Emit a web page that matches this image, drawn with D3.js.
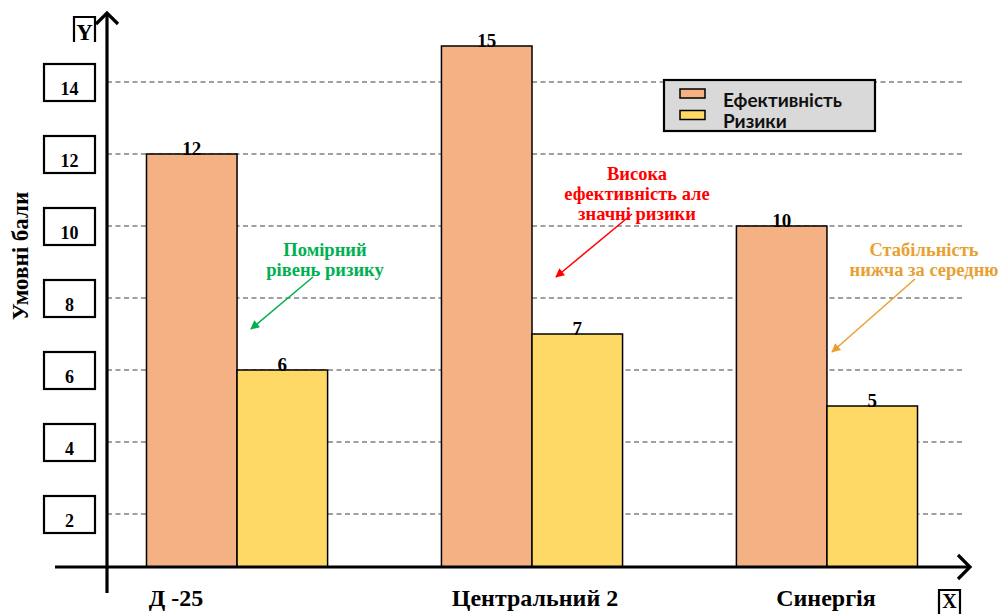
<!DOCTYPE html>
<html>
<head>
<meta charset="utf-8">
<script src="https://cdn.jsdelivr.net/npm/d3@7"></script>
<style>
  html, body { margin: 0; padding: 0; background: #ffffff; }
  svg { display: block; }
</style>
</head>
<body>
<svg id="chart" width="1006" height="614"></svg>
<script>
// Категорії та значення (умовні бали)
const categories = ["Д -25", "Центральний 2", "Синергія"];
const seriesNames = ["Ефективність", "Ризики"];
const efficiency = [12, 15, 10];
const risks = [6, 7, 5];
const yTicks = [2, 4, 6, 8, 10, 12, 14];

const seriesColors = ["#F4B183", "#FFD966"];
const serif = "'Liberation Serif', 'Times New Roman', serif";
const sans = "Lato, 'Open Sans', sans-serif";

const svg = d3.select("#chart");

// Шкали
const y = d3.scaleLinear().domain([0, 16]).range([586, 10]);
const x0 = d3.scaleBand().domain(categories).range([117, 947])
  .paddingInner(0.386).paddingOuter(0.1);
const x1 = d3.scaleBand().domain(seriesNames).range([0, x0.bandwidth()]).padding(0);

const axisX = 107;     // положення вертикальної осі
const axisY = 567;     // положення горизонтальної осі
const gridRight = 963;

const rows = categories.map((c, i) => ({
  category: c,
  values: [
    { name: seriesNames[0], value: efficiency[i], color: seriesColors[0] },
    { name: seriesNames[1], value: risks[i], color: seriesColors[1] }
  ]
}));

// Горизонтальні пунктирні лінії сітки
svg.append("g").selectAll("line")
  .data(yTicks)
  .join("line")
  .attr("x1", axisX).attr("x2", gridRight)
  .attr("y1", d => y(d)).attr("y2", d => y(d))
  .attr("stroke", "#404040").attr("stroke-width", 1)
  .attr("stroke-dasharray", "5,3.5");

// Підписи шкали в рамках
const tickG = svg.append("g").selectAll("g")
  .data(yTicks)
  .join("g")
  .attr("transform", d => `translate(0,${y(d)})`);
tickG.append("rect")
  .attr("x", 44).attr("y", -18).attr("width", 51).attr("height", 37)
  .attr("fill", "#fff").attr("stroke", "#000").attr("stroke-width", 2.2);
tickG.append("text")
  .attr("x", 69.5).attr("y", 13)
  .attr("text-anchor", "middle")
  .attr("font-family", serif).attr("font-weight", "bold").attr("font-size", 18)
  .text(d => d);

// Стовпчики
const groups = svg.append("g").selectAll("g")
  .data(rows)
  .join("g")
  .attr("transform", d => `translate(${x0(d.category)},0)`);

groups.selectAll("rect")
  .data(d => d.values)
  .join("rect")
  .attr("x", d => x1(d.name))
  .attr("y", d => y(d.value))
  .attr("width", x1.bandwidth())
  .attr("height", d => axisY - y(d.value))
  .attr("fill", d => d.color)
  .attr("stroke", "#000").attr("stroke-width", 1.5);

// Значення над стовпчиками
groups.selectAll("text.val")
  .data(d => d.values)
  .join("text")
  .attr("class", "val")
  .attr("x", d => x1(d.name) + x1.bandwidth() / 2)
  .attr("y", d => y(d.value) + 1)
  .attr("text-anchor", "middle")
  .attr("font-family", serif).attr("font-weight", "bold").attr("font-size", 19)
  .text(d => d.value);

// Осі зі стрілками
const axes = svg.append("g").attr("stroke", "#000").attr("fill", "none")
  .attr("stroke-width", 3.2).attr("stroke-linecap", "butt");
axes.append("line").attr("x1", axisX).attr("x2", axisX).attr("y1", 13).attr("y2", 593);
axes.append("path").attr("d", `M${axisX - 11},${24} L${axisX},${13} L${axisX + 11},${24}`)
  .attr("stroke-linejoin", "miter");
axes.append("line").attr("x1", 55).attr("x2", 969).attr("y1", axisY).attr("y2", axisY);
axes.append("path").attr("d", `M${958},${axisY - 12} L${970},${axisY} L${958},${axisY + 12}`);

// Позначки осей Y та X
const axisLetters = svg.append("g");
axisLetters.append("path")
  .attr("d", "M74,42 L74,17 L95,17 L95,42")
  .attr("fill", "none").attr("stroke", "#000").attr("stroke-width", 2.2);
axisLetters.append("text").attr("x", 84.5).attr("y", 40).attr("text-anchor", "middle")
  .attr("font-family", serif).attr("font-weight", "bold").attr("font-size", 23).text("Y");
axisLetters.append("path")
  .attr("d", "M939,616 L939,590 L960,590 L960,616")
  .attr("fill", "none").attr("stroke", "#000").attr("stroke-width", 2.2);
axisLetters.append("text").attr("x", 949.5).attr("y", 608).attr("text-anchor", "middle")
  .attr("font-family", serif).attr("font-weight", "bold").attr("font-size", 20).text("X");

// Підписи категорій
const labelShift = [-61, 3, -1];
svg.append("g").selectAll("text")
  .data(categories)
  .join("text")
  .attr("x", (d, i) => x0(d) + x0.bandwidth() / 2 + labelShift[i])
  .attr("y", 606)
  .attr("text-anchor", "middle")
  .attr("font-family", serif).attr("font-weight", "bold").attr("font-size", 24)
  .text(d => d);

// Назва осі Y
svg.append("text")
  .attr("transform", "translate(28,256) rotate(-90)")
  .attr("text-anchor", "middle")
  .attr("font-family", serif).attr("font-weight", "bold").attr("font-size", 23)
  .text("Умовні бали");

// Легенда
const legend = svg.append("g");
legend.append("rect")
  .attr("x", 664).attr("y", 80).attr("width", 211).attr("height", 51)
  .attr("fill", "#D9D9D9").attr("stroke", "#000").attr("stroke-width", 2.2);
seriesNames.forEach((name, i) => {
  legend.append("rect")
    .attr("x", 680).attr("y", 89 + i * 21.5).attr("width", 25).attr("height", 9)
    .attr("fill", seriesColors[i]).attr("stroke", "#000").attr("stroke-width", 1.5);
  legend.append("text")
    .attr("x", 723).attr("y", 107 + i * 21)
    .attr("font-family", sans).attr("font-weight", "bold").attr("font-size", 19)
    .attr("fill", "#111")
    .text(name);
});

// Коментарі зі стрілками
const notes = [
  { lines: ["Помірний", "рівень ризику"], color: "#00B050", cx: 325, y0: 256, from: [313, 277], to: [251, 329] },
  { lines: ["Висока", "ефективність але", "значні ризики"], color: "#FF0000", cx: 637, y0: 180, from: [632, 214], to: [556, 277] },
  { lines: ["Стабільність", "нижча за середню"], color: "#E8A033", cx: 924, y0: 256, from: [915, 279], to: [832, 352] }
];

const defs = svg.append("defs");
notes.forEach((n, i) => {
  defs.append("marker")
    .attr("id", "arrow" + i)
    .attr("viewBox", "0 0 10 10")
    .attr("refX", 9).attr("refY", 5)
    .attr("markerWidth", 7).attr("markerHeight", 6)
    .attr("markerUnits", "strokeWidth")
    .attr("orient", "auto")
    .append("path").attr("d", "M0,0 L10,5 L0,10 Z").attr("fill", n.color);
});

notes.forEach((n, i) => {
  const g = svg.append("g");
  g.append("line")
    .attr("x1", n.from[0]).attr("y1", n.from[1])
    .attr("x2", n.to[0]).attr("y2", n.to[1])
    .attr("stroke", n.color).attr("stroke-width", 1.5)
    .attr("marker-end", `url(#arrow${i})`);
  g.append("text")
    .attr("text-anchor", "middle")
    .attr("font-family", serif).attr("font-weight", "bold").attr("font-size", 18.5)
    .attr("fill", n.color)
    .selectAll("tspan")
    .data(n.lines)
    .join("tspan")
    .attr("x", n.cx)
    .attr("y", (d, j) => n.y0 + j * 20)
    .text(d => d);
});
</script>
</body>
</html>
